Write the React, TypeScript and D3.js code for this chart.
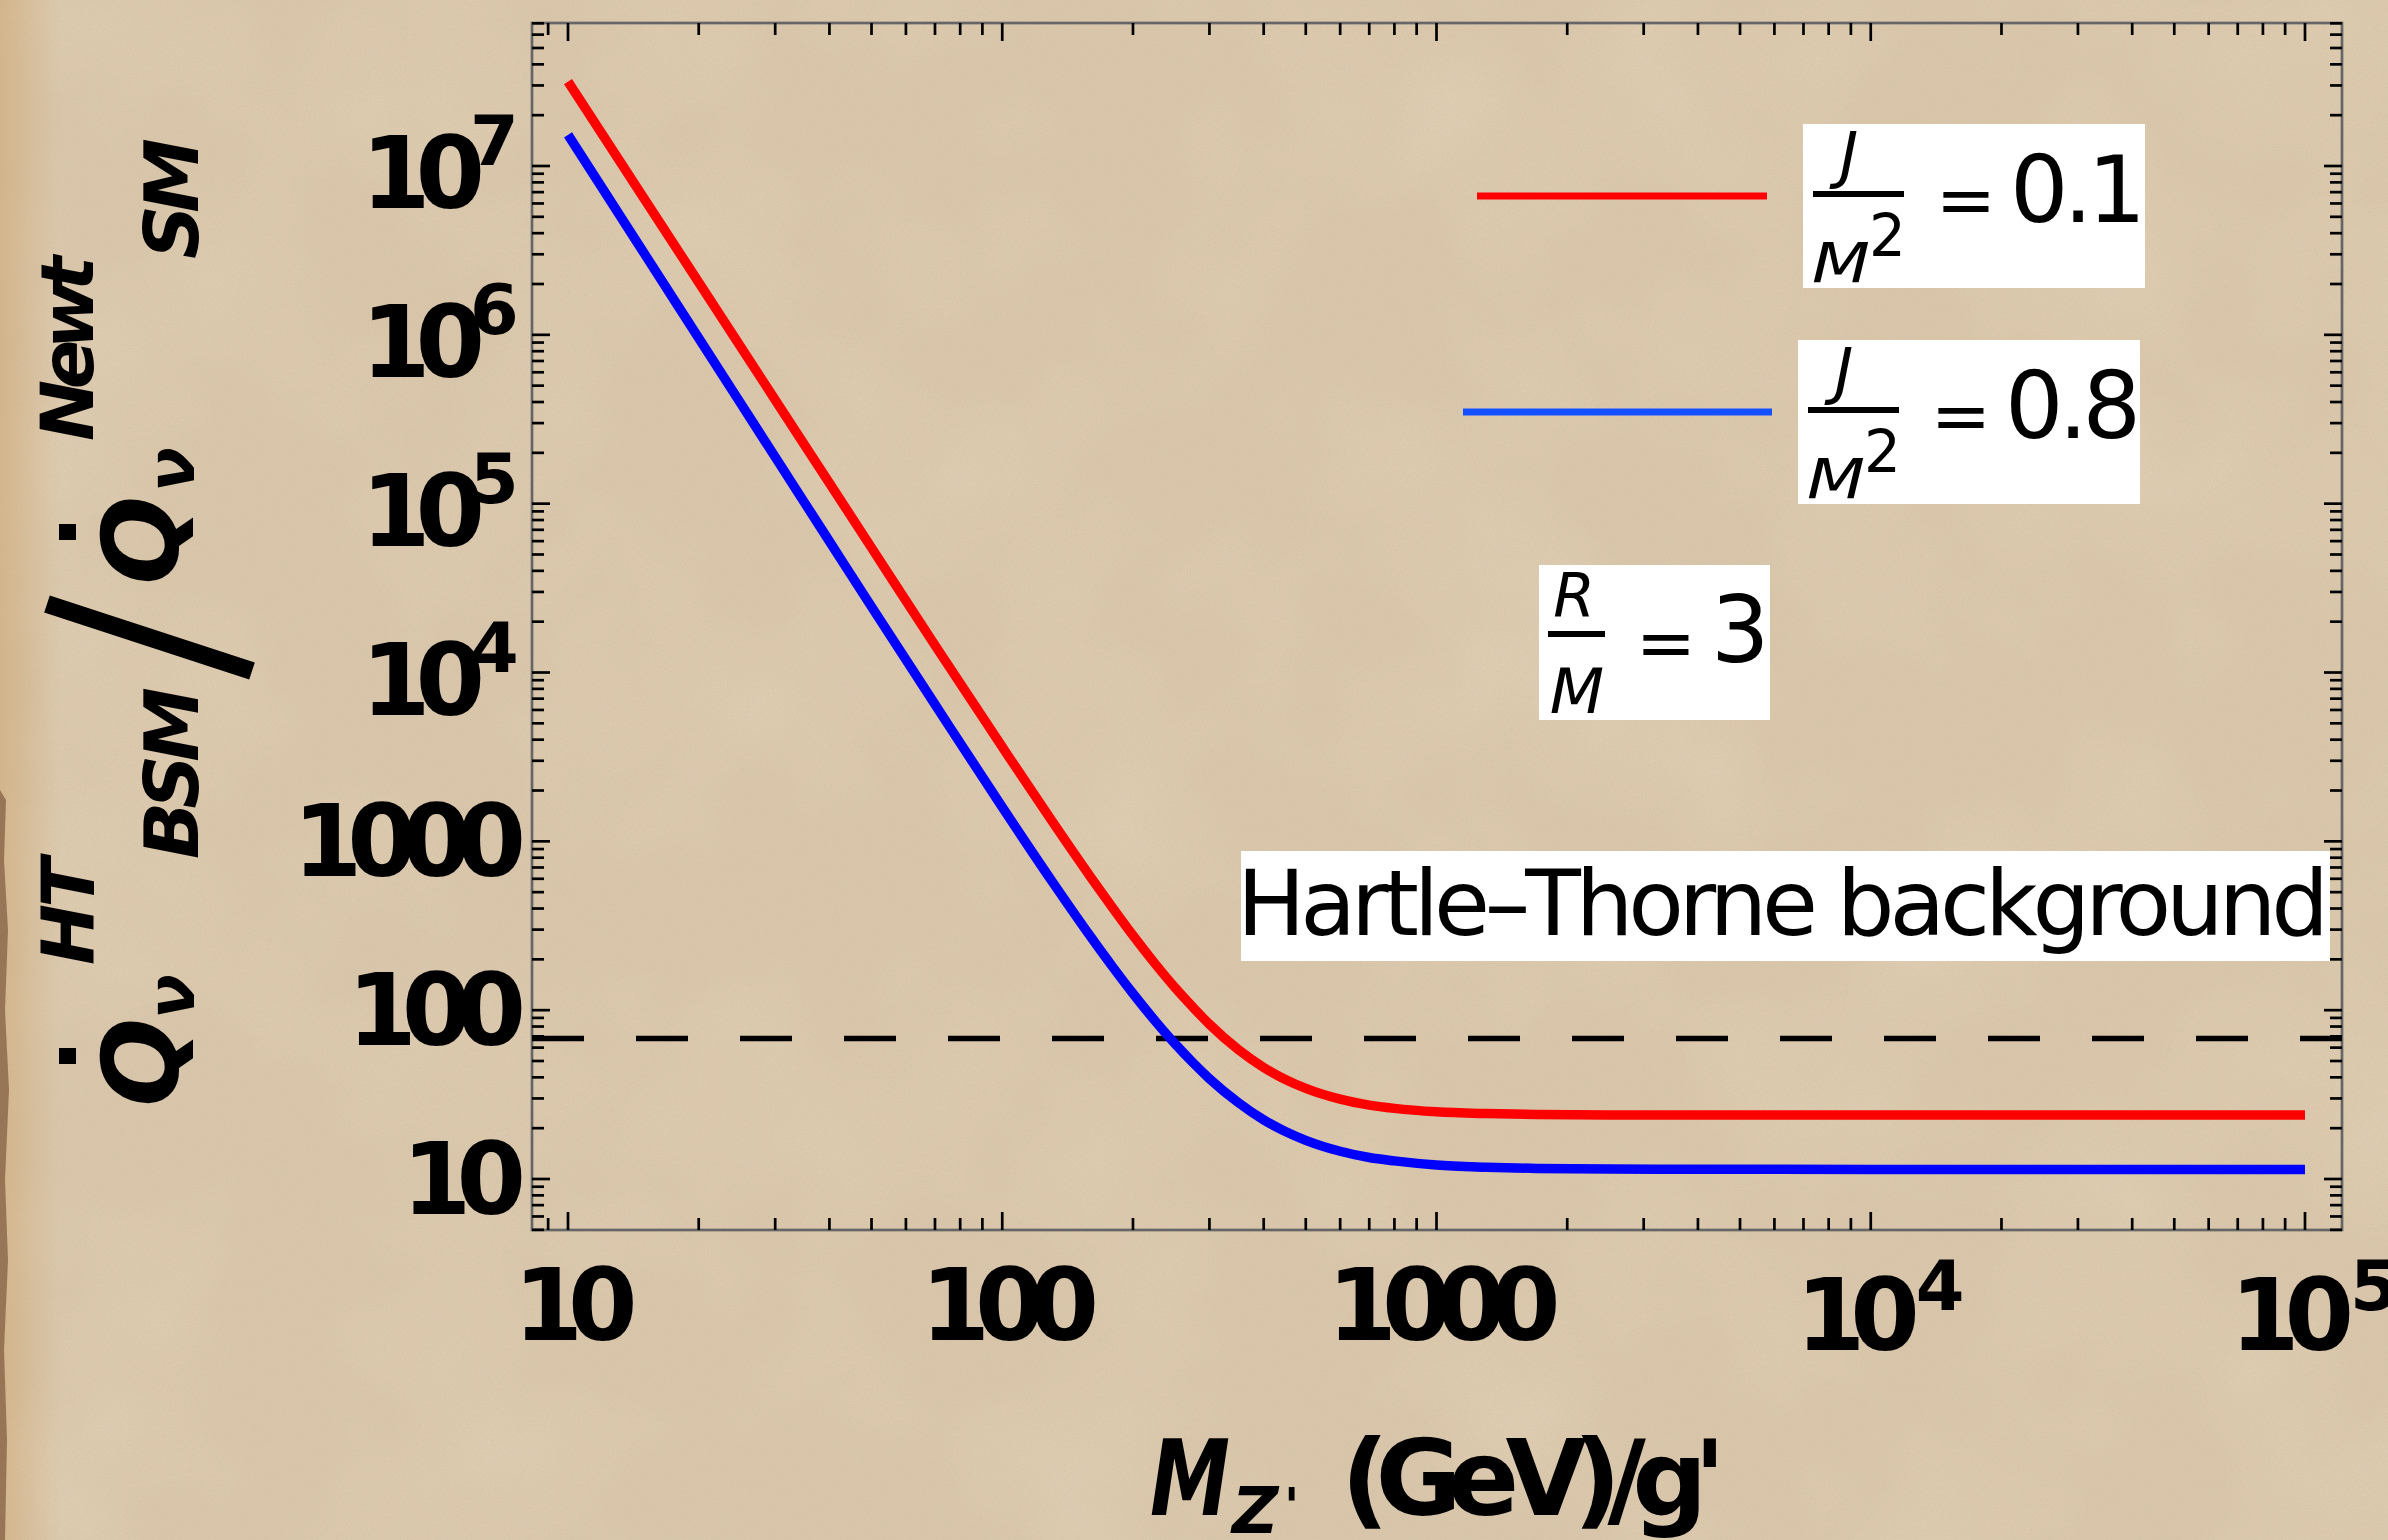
import React from 'react'
import * as d3 from 'd3'

// M_Z'/g' in GeV, shared grid for both curves
const massGrid = [10, 15, 20, 30, 40, 50, 70, 100, 130, 160, 180, 200, 225, 250, 275, 300, 350, 400, 450, 500, 600, 700, 800, 1000, 1300, 1700, 2500, 4000, 10000, 30000, 100000]
// ratio for J/M^2 = 0.1 (red)
const ratioJ01 = [3.16e7, 6.37e6, 2.045e6, 4.12e5, 1.323e5, 5.48e4, 1.45e4, 3622, 1325, 611, 400, 277, 188, 136, 104, 82.5, 58.3, 45.8, 38.7, 34.4, 29.7, 27.4, 26.2, 25.0, 24.4, 24.1, 23.96, 23.92, 23.9, 23.9, 23.9]
// ratio for J/M^2 = 0.8 (blue)
const ratioJ08 = [1.53e7, 3.02e6, 9.56e5, 1.889e5, 5.98e4, 2.45e4, 6470, 1593, 583, 271, 179, 125.5, 86.3, 63.2, 48.8, 39.3, 28.3, 22.4, 19.05, 16.95, 14.6, 13.4, 12.8, 12.1, 11.75, 11.55, 11.45, 11.42, 11.4, 11.4, 11.4]

const spinLabels = ['0.1', '0.8']
const seriesColors = ['#ff0000', '#0000ff']
const legendColors = ['#ff0000', '#1450ff']
const newtLevel = 68
const radiusLabel = '3'
const backgroundLabel = 'Hartle\u2013Thorne background'

const xTickValues = [10, 100, 1000, 10000, 100000]
const xTickLabels = ['10', '100', '1000', '10^4', '10^5']
const yTickValues = [10, 100, 1000, 1e4, 1e5, 1e6, 1e7]
const yTickLabels = ['10', '100', '1000', '10^4', '10^5', '10^6', '10^7']

const W = 2388
const H = 1540
const frame = {left: 532, right: 2342, top: 23, bottom: 1230}
const FONT = '"DejaVu Sans", sans-serif'

const x = d3.scaleLog().domain([10, 1e5]).range([568, 2305])
const y = d3.scaleLog().domain([10, 1e7]).range([1179, 166])

function logTicks(lo: number, hi: number) {
    const out: {v: number, major: boolean}[] = []
    for (let e = Math.floor(Math.log10(lo)); e <= Math.ceil(Math.log10(hi)); e++) {
        for (let m = 1; m <= 9; m++) {
            const v = m * Math.pow(10, e)
            if (v >= lo * 0.995 && v <= hi * 1.005) out.push({v, major: m === 1})
        }
    }
    return out
}

const bold = {fontFamily: FONT, fontWeight: 'bold' as const}

export default function App() {
    const xt = logTicks(x.invert(frame.left), x.invert(frame.right))
    const yt = logTicks(y.invert(frame.bottom), y.invert(frame.top))

    const line = d3.line<number>()
        .x((d, i) => x(massGrid[i]))
        .y(d => y(d))
        .curve(d3.curveMonotoneX)

    const series = [ratioJ01, ratioJ08]

    return (
        <svg width={W} height={H} style={{position: 'absolute', left: 0, top: 0}}>
            <defs>
                <filter id="paper" x="0" y="0" width="100%" height="100%">
                    <feFlood floodColor="#d9c6aa" result="base"/>
                    <feTurbulence type="fractalNoise" baseFrequency="0.005" numOctaves="3" seed="7" result="low"/>
                    <feColorMatrix in="low" type="matrix"
                        values="0 0 0 0 0.80  0 0 0 0 0.68  0 0 0 0 0.50  0.9 0 0 0 -0.38" result="blotch"/>
                    <feTurbulence type="fractalNoise" baseFrequency="0.7" numOctaves="2" seed="3" result="hi"/>
                    <feColorMatrix in="hi" type="matrix"
                        values="0 0 0 0 0.60  0 0 0 0 0.51  0 0 0 0 0.38  1.0 0 0 0 -0.42" result="specks"/>
                    <feMerge>
                        <feMergeNode in="base"/>
                        <feMergeNode in="blotch"/>
                        <feMergeNode in="specks"/>
                    </feMerge>
                </filter>
                <linearGradient id="edgeTint" x1="0" x2="1" y1="0" y2="0">
                    <stop offset="0" stopColor="#c99a5c" stopOpacity="0.4"/>
                    <stop offset="1" stopColor="#c99a5c" stopOpacity="0"/>
                </linearGradient>
            </defs>

            <rect x={0} y={0} width={W} height={H} filter="url(#paper)"/>
            <rect x={0} y={0} width={60} height={H} fill="url(#edgeTint)"/>
            <path d="M0,790 L6,800 L4,860 L8,930 L5,1010 L9,1090 L5,1180 L8,1260 L4,1350 L7,1440 L5,1540 L0,1540 Z" fill="#8c6a4e" opacity={0.85}/>

            {/* frame */}
            <rect x={frame.left} y={frame.top} width={frame.right - frame.left} height={frame.bottom - frame.top}
                fill="none" stroke="#666" strokeWidth={2.7}/>

            {/* ticks */}
            <g stroke="#000" strokeWidth={2.7}>
                {xt.map((t, i) => {
                    const len = t.major ? 18 : 12
                    const px = x(t.v)
                    return (
                        <g key={'xt' + i}>
                            <line x1={px} x2={px} y1={frame.bottom} y2={frame.bottom - len}/>
                            <line x1={px} x2={px} y1={frame.top} y2={frame.top + len}/>
                        </g>
                    )
                })}
                {yt.map((t, i) => {
                    const len = t.major ? 18 : 12
                    const py = y(t.v)
                    return (
                        <g key={'yt' + i}>
                            <line x1={frame.left} x2={frame.left + len} y1={py} y2={py}/>
                            <line x1={frame.right} x2={frame.right - len} y1={py} y2={py}/>
                        </g>
                    )
                })}
            </g>

            {/* tick labels */}
            {xTickValues.map((v, i) => {
                const [b, e] = xTickLabels[i].split('^')
                const px = x(v)
                if (!e) return (
                    <text key={'xl' + i} x={px} y={1340} textAnchor="middle" fontSize={100} letterSpacing={-15} {...bold}>{b}</text>
                )
                return (
                    <g key={'xl' + i}>
                        <text x={px - 75} y={1350} fontSize={100} letterSpacing={-15} {...bold}>{b}</text>
                        <text x={px + 45} y={1310} fontSize={70} {...bold}>{e}</text>
                    </g>
                )
            })}
            {yTickValues.map((v, i) => {
                const [b, e] = yTickLabels[i].split('^')
                const py = y(v)
                if (!e) return (
                    <text key={'yl' + i} x={511} y={py + 35} textAnchor="end" fontSize={100} letterSpacing={-15} {...bold}>{b}</text>
                )
                return (
                    <g key={'yl' + i}>
                        <text x={361} y={py + 42} fontSize={100} letterSpacing={-15} {...bold}>{b}</text>
                        <text x={470} y={py - 1} fontSize={70} {...bold}>{e}</text>
                    </g>
                )
            })}

            {/* reference level */}
            <line x1={frame.left} x2={frame.right} y1={y(newtLevel)} y2={y(newtLevel)}
                stroke="#000" strokeWidth={5.5} strokeDasharray="52 52"/>

            {/* curves */}
            {series.map((s, i) => (
                <path key={'s' + i} d={line(s) || ''} fill="none" stroke={seriesColors[i]} strokeWidth={9.5}/>
            ))}

            {/* legend */}
            {spinLabels.map((lab, i) => {
                const dx = i * -5
                const dy = i * 216
                return (
                    <g key={'lg' + i} transform={`translate(${dx},${dy})`}>
                        <line x1={i ? 1468 : 1477} x2={i ? 1777 : 1767} y1={196} y2={196}
                            stroke={legendColors[i]} strokeWidth={7}/>
                        <rect x={1803} y={124} width={342} height={164} fill="#fff"/>
                        <text x={1849} y={176} textAnchor="middle" fontSize={63} fontStyle="italic" fontFamily={FONT}>J</text>
                        <rect x={1813} y={191} width={91} height={6} fill="#000"/>
                        <text x={1812} y={282} fontSize={56} fontStyle="italic" fontFamily={FONT}
                            textLength={58} lengthAdjust="spacingAndGlyphs">M</text>
                        <text x={1869} y={256} fontSize={58} fontFamily={FONT}>2</text>
                        <text x={1966} y={224} textAnchor="middle" fontSize={72} fontFamily={FONT}>=</text>
                        <text x={2010} y={222} fontSize={92} fontFamily={FONT} textLength={136} lengthAdjust="spacing">{lab}</text>
                    </g>
                )
            })}

            {/* R/M box */}
            <rect x={1539} y={565} width={231} height={155} fill="#fff"/>
            <text x={1574} y={617} textAnchor="middle" fontSize={60} fontStyle="italic" fontFamily={FONT}>R</text>
            <rect x={1548} y={631} width={57} height={6} fill="#000"/>
            <text x={1577} y={713} textAnchor="middle" fontSize={63} fontStyle="italic" fontFamily={FONT}>M</text>
            <text x={1666} y={667} textAnchor="middle" fontSize={72} fontFamily={FONT}>=</text>
            <text x={1711} y={662} fontSize={92} fontFamily={FONT}>{radiusLabel}</text>

            {/* background annotation */}
            <rect x={1241} y={851} width={1089} height={110} fill="#fff"/>
            <text x={1237} y={934.5} fontSize={91} fontFamily={FONT} textLength={1092} lengthAdjust="spacing">{backgroundLabel}</text>

            {/* x axis title */}
            <text x={1150} y={1515} fontSize={105} fontStyle="italic" textLength={80} lengthAdjust="spacingAndGlyphs" {...bold}>M</text>
            <text x={1232} y={1533} fontSize={64} fontStyle="italic" {...bold}>Z</text>
            <text x={1284} y={1523} fontSize={50} {...bold}>'</text>
            <text x={1341} y={1515} fontSize={105} textLength={385} lengthAdjust="spacing" {...bold}>(GeV)/g'</text>

            {/* y axis title */}
            <g transform="rotate(-90)" fontStyle="italic" {...bold}>
                <text x={-1107} y={178} fontSize={105}>Q</text>
                <text x={-1019} y={194} fontSize={66}>ν</text>
                <text x={-965} y={94} fontSize={73} textLength={107} lengthAdjust="spacing">HT</text>
                <text x={-859} y={198} fontSize={75} textLength={172} lengthAdjust="spacing">BSM</text>
                <text x={-585} y={178} fontSize={105}>Q</text>
                <text x={-492} y={194} fontSize={66}>ν</text>
                <text x={-441} y={93} fontSize={73} textLength={185} lengthAdjust="spacing">Newt</text>
                <text x={-259} y={198} fontSize={75} textLength={121} lengthAdjust="spacing">SM</text>
            </g>
            <rect x={59} y={1048} width={17} height={16} fill="#000"/>
            <rect x={59} y={524} width={17} height={16} fill="#000"/>
            <line x1={252} y1={671} x2={47} y2={604} stroke="#000" strokeWidth={18}/>
        </svg>
    )
}
